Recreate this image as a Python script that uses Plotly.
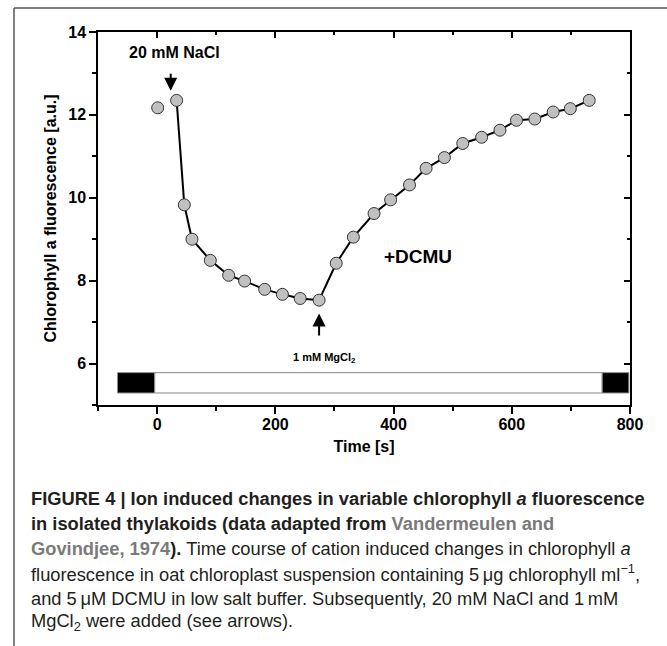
import plotly.graph_objects as go

# ---- data ----
time_s = [1, 33, 46, 59, 90, 121, 148, 182, 212, 242, 274, 303, 332, 367,
          395, 427, 455, 486, 517, 549, 580, 608, 639, 670, 699, 731]
fluor = [12.17, 12.35, 9.83, 9.00, 8.49, 8.13, 7.99, 7.79, 7.67, 7.57, 7.53,
         8.42, 9.05, 9.62, 9.95, 10.31, 10.71, 10.97, 11.31, 11.46, 11.63,
         11.87, 11.90, 12.07, 12.15, 12.35]

# light/dark bar (start, end, fill)
bar_start = [-67, -4, 753]
bar_end = [-4, 753, 798]
bar_fill = ["black", "white", "black"]
bar_low, bar_high = 5.29, 5.78

x_ticks = [0, 200, 400, 600, 800]
y_ticks = [6, 8, 10, 12, 14]

W, H = 667, 646
L, R, T, B = 98, 37, 32, 241
pw, ph = W - L - R, H - T - B


def px(xp):
    return (xp - L) / pw


def py(yp):
    return (H - B - yp) / ph


CHART_FONT = "Liberation Sans, Arial, sans-serif"
CAP_FONT = "Liberation Sans, Arial, sans-serif"

fig = go.Figure()

# connecting line (starts at NaCl addition)
fig.add_trace(go.Scatter(x=time_s[1:], y=fluor[1:], mode="lines",
                         line=dict(color="black", width=2),
                         hoverinfo="skip", showlegend=False))
# markers
fig.add_trace(go.Scatter(x=time_s, y=fluor, mode="markers",
                         marker=dict(size=12, color="#c0c0c0",
                                     line=dict(color="#333333", width=1)),
                         showlegend=False))
# dummy trace on mirrored axes
fig.add_trace(go.Scatter(x=time_s, y=fluor, xaxis="x2", yaxis="y2",
                         mode="markers", marker=dict(opacity=0),
                         hoverinfo="skip", showlegend=False))

shapes = []
for s, e, c in zip(bar_start, bar_end, bar_fill):
    shapes.append(dict(type="rect", xref="x", yref="y", x0=s, x1=e,
                       y0=bar_low, y1=bar_high, fillcolor=c,
                       line=dict(color="#888888", width=1), layer="above"))
# figure frame (top and left)
shapes.append(dict(type="line", xref="paper", yref="paper",
                   x0=px(14), x1=px(667), y0=py(8), y1=py(8),
                   line=dict(color="#555555", width=1.5)))
shapes.append(dict(type="line", xref="paper", yref="paper",
                   x0=px(14), x1=px(14), y0=py(8), y1=py(646),
                   line=dict(color="#555555", width=1.5)))

annotations = [
    dict(x=23, y=12.58, ax=23, ay=13.2, xref="x", yref="y", axref="x",
         ayref="y", text=" ", showarrow=True, arrowhead=2, arrowsize=1.3,
         arrowwidth=2, arrowcolor="black"),
    dict(x=29, y=13.5, xref="x", yref="y", text="20 mM NaCl",
         showarrow=False, font=dict(family=CHART_FONT, size=16, weight=700,
                                    color="black")),
    dict(x=274, y=7.21, ax=274, ay=6.47, xref="x", yref="y", axref="x",
         ayref="y", text=" ", showarrow=True, arrowhead=2, arrowsize=1.3,
         arrowwidth=2, arrowcolor="black"),
    dict(x=283, y=6.14, xref="x", yref="y", text="1 mM MgCl<sub>2</sub>",
         showarrow=False, font=dict(family=CHART_FONT, size=11, weight=700,
                                    color="black")),
    dict(x=441, y=8.58, xref="x", yref="y", text="+DCMU",
         showarrow=False, font=dict(family=CHART_FONT, size=19, weight=700,
                                    color="black")),
]

GRAY = "#7a7a7a"
cap_lines = [
    "<b>FIGURE 4 | Ion induced changes in variable chlorophyll <i>a</i> fluorescence</b>",
    "<b>in isolated thylakoids (data adapted from <span style='color:%s'>Vandermeulen and</span></b>" % GRAY,
    "<b><span style='color:%s'>Govindjee, 1974</span>).</b> Time course of cation induced changes in chlorophyll <i>a</i>" % GRAY,
    "fluorescence in oat chloroplast suspension containing 5\u2009\u03bcg chlorophyll ml<sup>\u22121</sup>,",
    "and 5\u2009\u03bcM DCMU in low salt buffer. Subsequently, 20 mM NaCl and 1\u2009mM",
    "MgCl<sub>2</sub> were added (see arrows).",
]
cap_y = [498, 523, 548, 573, 598, 622]
for txt, yy in zip(cap_lines, cap_y):
    annotations.append(dict(x=px(29), y=py(yy), xref="paper", yref="paper",
                            xanchor="left", yanchor="middle", text=txt,
                            showarrow=False, align="left",
                            font=dict(family=CAP_FONT, size=18.3,
                                      color="#231f20")))

axis_common = dict(showline=True, linecolor="black", linewidth=1.5,
                   showgrid=False, zeroline=False)

fig.update_layout(
    width=W, height=H, margin=dict(l=L, r=R, t=T, b=B, pad=0),
    paper_bgcolor="white", plot_bgcolor="white", showlegend=False,
    font=dict(family=CHART_FONT, color="black"),
    xaxis=dict(range=[-100, 800], tickvals=x_ticks, ticks="outside",
               ticklen=7, tickwidth=1.5, tickcolor="black",
               ticklabelstandoff=-3,
               minor=dict(dtick=100, tick0=0, ticks="outside", ticklen=4,
                          tickwidth=1.5, tickcolor="black"),
               tickfont=dict(size=16, weight=700),
               title=dict(text="Time [s]", font=dict(size=16, weight=700),
                          standoff=9),
               **axis_common),
    yaxis=dict(range=[5, 14], tickvals=y_ticks, ticks="outside",
               ticklen=7, tickwidth=1.5, tickcolor="black",
               minor=dict(dtick=1, tick0=0, ticks="outside", ticklen=4,
                          tickwidth=1.5, tickcolor="black"),
               tickfont=dict(size=16, weight=700),
               title=dict(text="Chlorophyll a fluorescence [a.u.]",
                          font=dict(size=16, weight=700), standoff=8),
               **axis_common),
    xaxis2=dict(range=[-100, 800], overlaying="x", side="top",
                tickvals=x_ticks, ticks="inside", ticklen=6, tickwidth=1.5,
                tickcolor="black", showticklabels=False,
                minor=dict(dtick=100, tick0=0, ticks="inside", ticklen=3,
                           tickwidth=1.5, tickcolor="black"),
                **axis_common),
    yaxis2=dict(range=[5, 14], overlaying="y", side="right",
                tickvals=y_ticks, ticks="inside", ticklen=6, tickwidth=1.5,
                tickcolor="black", showticklabels=False,
                minor=dict(dtick=1, tick0=0, ticks="inside", ticklen=3,
                           tickwidth=1.5, tickcolor="black"),
                **axis_common),
    shapes=shapes, annotations=annotations,
)

fig.write_html("out.html", config={"displayModeBar": False},
               post_script="document.body.style.margin='0';")
